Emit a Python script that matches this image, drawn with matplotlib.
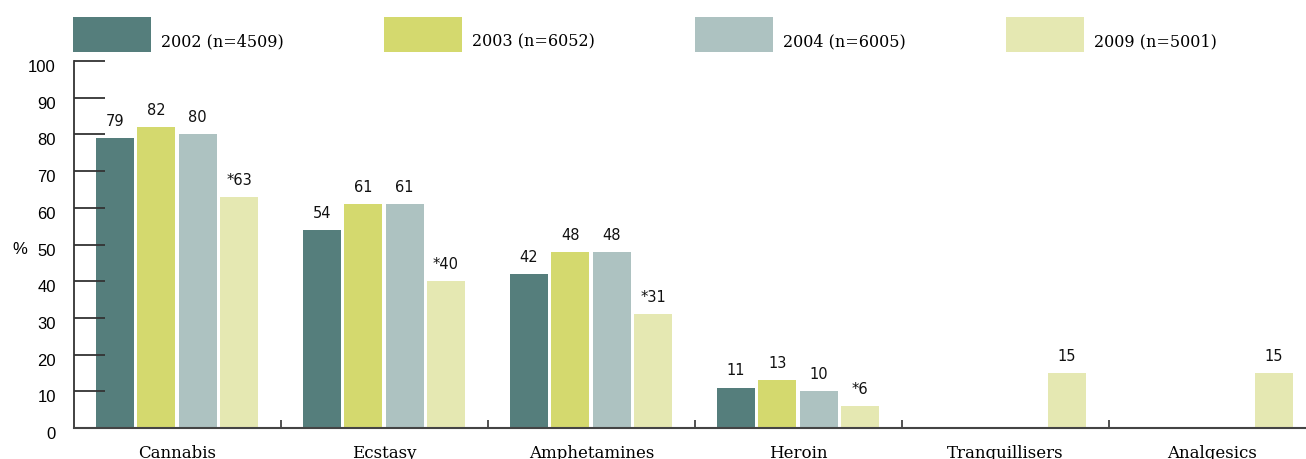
import matplotlib
matplotlib.use("Agg")
import matplotlib.pyplot as plt
import matplotlib.transforms as mtransforms
from matplotlib.patches import Rectangle
import numpy as np

categories = ["Cannabis", "Ecstasy", "Amphetamines", "Heroin", "Tranquillisers", "Analgesics"]
series_names = ["2002 (n=4509)", "2003 (n=6052)", "2004 (n=6005)", "2009 (n=5001)"]
values = [
    [79, 54, 42, 11, None, None],
    [82, 61, 48, 13, None, None],
    [80, 61, 48, 10, None, None],
    [63, 40, 31, 6, 15, 15],
]
starred = [
    [False] * 6,
    [False] * 6,
    [False] * 6,
    [True, True, True, True, False, False],
]
colors = ["#557e7c", "#d4d96e", "#adc2c1", "#e5e8b2"]
yticks = [0, 10, 20, 30, 40, 50, 60, 70, 80, 90, 100]

W, H = 1306, 459
fig = plt.figure(figsize=(W / 100, H / 100), dpi=100)
ax = fig.add_axes([74 / W, (H - 428) / H, (1316 - 74) / W, (428 - 61) / H])

serif = ["DejaVu Serif"]
sans = ["Liberation Sans", "DejaVu Sans"]
vsans = ["DejaVu Sans"]

x = np.arange(len(categories))
offsets = [-0.302, -0.103, 0.097, 0.297]
bw = 0.184
for i, (vals, col) in enumerate(zip(values, colors)):
    for j, v in enumerate(vals):
        if v is None:
            continue
        ax.bar(x[j] + offsets[i], v, width=bw, color=col, linewidth=0)
        lab = ("*" if starred[i][j] else "") + str(v)
        ax.text(x[j] + offsets[i], v + 2.5, lab, ha="center", va="bottom",
                fontsize=10.5, family=vsans, color="#111111")

ax.set_xlim(-0.5, len(categories) - 0.5)
ax.set_ylim(0, 100)
ax.set_yticks(yticks)
ax.set_yticklabels([str(t) for t in yticks], family=sans, fontsize=12)
ax.tick_params(axis="y", direction="in", length=22, width=1.3, color="#333333", pad=13)
shift = mtransforms.ScaledTranslation(0, -5 / 100, fig.dpi_scale_trans)
for lbl in ax.get_yticklabels():
    lbl.set_transform(lbl.get_transform() + shift)
ax.set_xticks(x)
ax.set_xticklabels(categories, family=serif, fontsize=12)
ax.tick_params(axis="x", which="major", length=0, pad=12)
ax.set_xticks(np.arange(0.5, len(categories) - 0.5, 1.0), minor=True)
ax.tick_params(axis="x", which="minor", direction="in", length=6, width=1.2, color="#333333")

for s in ["top", "right"]:
    ax.spines[s].set_visible(False)
ax.spines["left"].set_linewidth(1.3)
ax.spines["left"].set_color("#333333")
ax.spines["bottom"].set_linewidth(1.5)
ax.spines["bottom"].set_color("#444444")

fig.text(20 / W, 1 - 250 / H, "%", ha="center", va="center", family=sans, fontsize=12)

# legend
for k, (name, col) in enumerate(zip(series_names, colors)):
    x0 = 73 + 311 * k
    fig.patches.append(Rectangle((x0 / W, 1 - 52 / H), 78 / W, 35 / H,
                                 transform=fig.transFigure, color=col, linewidth=0))
    fig.text((x0 + 88) / W, 1 - 42 / H, name, ha="left", va="center",
             family=serif, fontsize=11.5)

fig.savefig("out.png", dpi=100)
